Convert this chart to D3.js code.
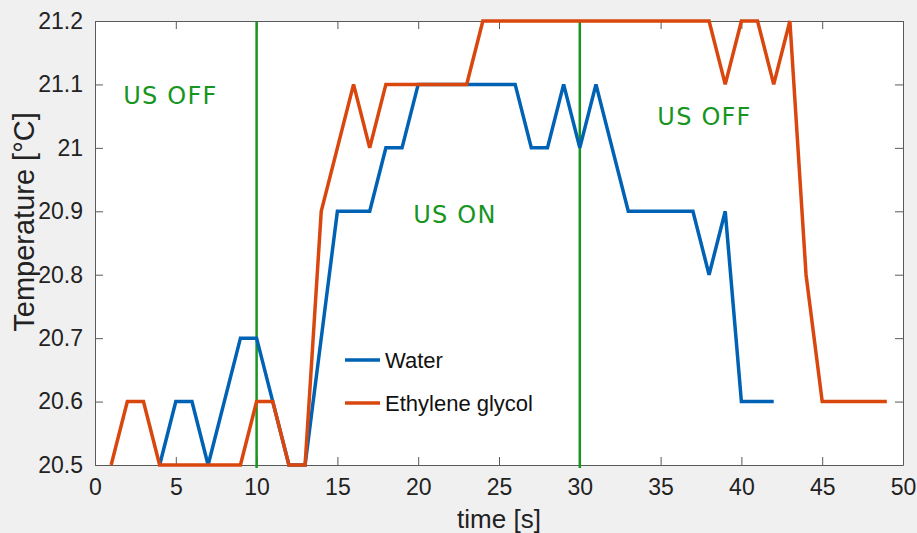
<!DOCTYPE html>
<html>
<head>
<meta charset="utf-8">
<script src="https://cdn.jsdelivr.net/npm/d3@7"></script>
<style>
  body { margin: 0; background: #f0f0f0; }
  svg { display: block; }
</style>
</head>
<body>
<div id="chart"></div>
<script>
// time [s] and temperature [°C]
var water_t = [4,5,6,7,8,9,10,11,12,13,14,15,16,17,18,19,20,21,22,23,24,25,26,27,28,29,30,31,32,33,34,35,36,37,38,39,40,41,42];
var water_v = [20.5,20.6,20.6,20.5,20.6,20.7,20.7,20.6,20.5,20.5,20.7,20.9,20.9,20.9,21.0,21.0,21.1,21.1,21.1,21.1,21.1,21.1,21.1,21.0,21.0,21.1,21.0,21.1,21.0,20.9,20.9,20.9,20.9,20.9,20.8,20.9,20.6,20.6,20.6];

var glycol_t = [1,2,3,4,5,6,7,8,9,10,11,12,13,14,15,16,17,18,19,20,21,22,23,24,25,26,27,28,29,30,31,32,33,34,35,36,37,38,39,40,41,42,43,44,45,46,47,48,49];
var glycol_v = [20.5,20.6,20.6,20.5,20.5,20.5,20.5,20.5,20.5,20.6,20.6,20.5,20.5,20.9,21.0,21.1,21.0,21.1,21.1,21.1,21.1,21.1,21.1,21.2,21.2,21.2,21.2,21.2,21.2,21.2,21.2,21.2,21.2,21.2,21.2,21.2,21.2,21.2,21.1,21.2,21.2,21.1,21.2,20.8,20.6,20.6,20.6,20.6,20.6];

var series_names = ["Water", "Ethylene glycol"];
var us_switch = [10, 30];
var notes = [
  {text: "US OFF", t: 1.75, v: 21.083},
  {text: "US ON", t: 19.7, v: 20.895},
  {text: "US OFF", t: 34.8, v: 21.05}
];
var x_ticks = [0,5,10,15,20,25,30,35,40,45,50];
var y_ticks = [20.5,20.6,20.7,20.8,20.9,21,21.1,21.2];

var W = 917, H = 533;
var margin = {top: 21, left: 95, bottom: 68, right: 14};
var blue = "#0062b4", orange = "#d9470f", green = "#17951f";

var svg = d3.select("#chart").append("svg")
  .attr("width", W)
  .attr("height", H);

svg.append("rect").attr("width", W).attr("height", H).attr("fill", "#f0f0f0");

var x = d3.scaleLinear().domain([0, 50]).range([margin.left, W - margin.right]);
var y = d3.scaleLinear().domain([20.5, 21.2]).range([H - margin.bottom, margin.top]);

svg.append("rect")
  .attr("x", x(0)).attr("y", y(21.2))
  .attr("width", x(50) - x(0)).attr("height", y(20.5) - y(21.2))
  .attr("fill", "white");

function fmt(d) { return d3.format("")(+d.toFixed(1)); }

// axes, ticks pointing inward on all four sides
var xb = svg.append("g").attr("transform", "translate(0," + y(20.5) + ")")
  .call(d3.axisBottom(x).tickValues(x_ticks).tickSizeInner(-8).tickSizeOuter(0).tickPadding(14));
var xt = svg.append("g").attr("transform", "translate(0," + y(21.2) + ")")
  .call(d3.axisTop(x).tickValues(x_ticks).tickSizeInner(-8).tickSizeOuter(0).tickFormat(""));
var yl = svg.append("g").attr("transform", "translate(" + x(0) + ",0)")
  .call(d3.axisLeft(y).tickValues(y_ticks).tickSizeInner(-8).tickSizeOuter(0).tickPadding(12).tickFormat(fmt));
var yr = svg.append("g").attr("transform", "translate(" + x(50) + ",0)")
  .call(d3.axisRight(y).tickValues(y_ticks).tickSizeInner(-8).tickSizeOuter(0).tickFormat(""));

[xb, xt, yl, yr].forEach(function(g) {
  g.select(".domain").attr("stroke", "#5a5a5a").attr("stroke-width", 1);
  g.selectAll(".tick line").attr("stroke", "#5a5a5a");
  g.selectAll("text")
    .attr("fill", "#222")
    .style("font-family", "'Liberation Sans', Arial, sans-serif")
    .style("font-size", "23px");
});

// green switch lines
svg.selectAll(".switch").data(us_switch).enter()
  .append("line")
  .attr("x1", function(d) { return x(d); })
  .attr("x2", function(d) { return x(d); })
  .attr("y1", y(21.2) + 1)
  .attr("y2", y(20.5) + 3)
  .attr("stroke", green)
  .attr("stroke-width", 2.5);

var line = d3.line()
  .x(function(d) { return x(d[0]); })
  .y(function(d) { return y(d[1]); });

svg.append("path")
  .datum(d3.zip(water_t, water_v))
  .attr("d", line)
  .attr("fill", "none")
  .attr("stroke", blue)
  .attr("stroke-width", 3.5)
  .attr("stroke-linejoin", "miter");

svg.append("path")
  .datum(d3.zip(glycol_t, glycol_v))
  .attr("d", line)
  .attr("fill", "none")
  .attr("stroke", orange)
  .attr("stroke-width", 3.5)
  .attr("stroke-linejoin", "miter");

// annotations
svg.selectAll(".note").data(notes).enter()
  .append("text")
  .attr("x", function(d) { return x(d.t); })
  .attr("y", function(d) { return y(d.v); })
  .attr("dy", "0.36em")
  .attr("fill", green)
  .style("font-family", "'DejaVu Sans', Verdana, sans-serif")
  .style("font-size", "24px")
  .style("letter-spacing", "1.2px")
  .text(function(d) { return d.text; });

// legend (no box)
var legend = svg.append("g").attr("class", "legend");
legend.selectAll("g").data(series_names).enter()
  .append("g")
  .each(function(d, i) {
    var g = d3.select(this);
    var ly = 360 + i * 43;
    g.append("line")
      .attr("x1", 345).attr("x2", 380)
      .attr("y1", ly).attr("y2", ly)
      .attr("stroke", i == 0 ? blue : orange)
      .attr("stroke-width", 3.5);
    g.append("text")
      .attr("x", 385)
      .attr("y", ly)
      .attr("dy", "0.35em")
      .attr("fill", "#111")
      .style("font-family", "'Liberation Sans', Arial, sans-serif")
      .style("font-size", "22px")
      .text(d);
  });

// axis titles
svg.append("text")
  .attr("x", (x(0) + x(50)) / 2)
  .attr("y", 528)
  .attr("text-anchor", "middle")
  .attr("fill", "#222")
  .style("font-family", "'Liberation Sans', Arial, sans-serif")
  .style("font-size", "26px")
  .text("time [s]");

svg.append("text")
  .attr("transform", "translate(34," + 222 + ") rotate(-90)")
  .attr("text-anchor", "middle")
  .attr("fill", "#222")
  .style("font-family", "'Liberation Sans', Arial, sans-serif")
  .style("font-size", "29px")
  .text("Temperature [°C]");
</script>
</body>
</html>
